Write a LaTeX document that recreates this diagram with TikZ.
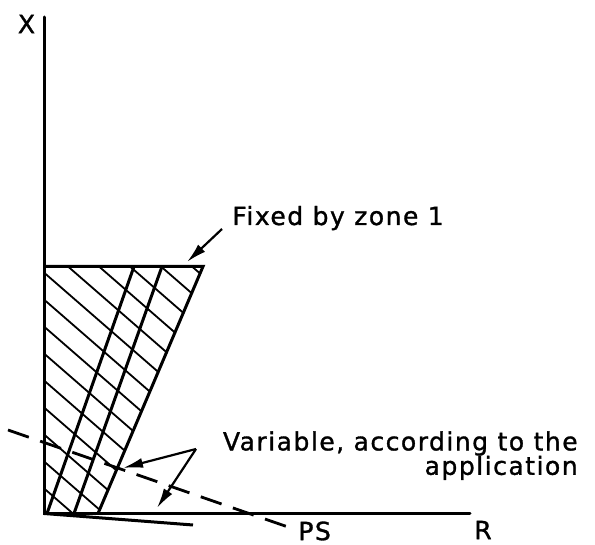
\documentclass[tikz,border=0pt]{standalone}
\usepackage{fontspec}
\usetikzlibrary{arrows.meta,positioning}
\newfontfamily\lettering[LetterSpace=6,FakeBold=1.2]{DejaVu Sans}
\tikzset{
  axis/.style={line width=1.5pt, line cap=round},
  edge/.style={line width=1.5pt},
  hatch/.style={line width=0.9pt},
  bound/.style={line width=1.4pt, dash pattern=on 11pt off 6pt},
  callout/.style={-{Latex[length=10pt,width=5pt]}, line width=1.1pt},
  lbl/.style={font=\lettering\fontsize{12.5}{12.2}\selectfont, inner sep=0pt},
}
\begin{document}
\begin{tikzpicture}[x=0.5pt, y=-0.5pt]
  \useasboundingbox (0,0) rectangle (595,545);
  \coordinate (O) at (44,513.5);
  \coordinate (Xtop) at (44,17);
  \coordinate (Rend) at (470,513.5);
  \coordinate (TL) at (44,266.5);
  \coordinate (TR) at (203,266.5);
  \coordinate (BR) at (98,513.5);
  \coordinate (psStart) at (8,430);
  \coordinate (psEnd) at (288,527);
  \coordinate (lowEnd) at (193,525);
  % hatched zone
  \begin{scope}
    \clip (O) -- (TL) -- (TR) -- (BR) -- cycle;
    \foreach \k in {-10,...,5} \draw[hatch] ({68+31*\k},266.5) -- ++(400,348);
  \end{scope}
  \draw[edge] (134,266.5) -- (47,513.5);
  \draw[edge] (162,266.5) -- (74,513.5);
  \draw[edge] (TL) -- (TR) -- (BR);
  \draw[axis] (Xtop) -- (O) -- (Rend);
  \draw[edge] (O) -- (lowEnd);
  % labels
  \node[lbl] (X) at (26.5,24) {X};
  \node[lbl] (R) at (483,530) {R};
  \node[lbl, right=5pt of psEnd, yshift=-2pt] (PS) {PS};
  \draw[bound] (psStart) -- (psEnd);
  \node[lbl, anchor=base west] (fix) at (232,225) {Fixed by zone 1};
  \node[lbl, anchor=north east, align=right] (var) at (578,431) {Variable, according to the\\application};
  % callouts
  \coordinate (fixTail) at (222,229);
  \coordinate (fixTip) at (187,262);
  \coordinate (varTail) at (196,449);
  \coordinate (varTipA) at (123,468);
  \coordinate (varTipB) at (157,508);
  \draw[callout] (fixTail) -- (fixTip);
  \draw[callout] (varTail) -- (varTipA);
  \draw[callout] (varTail) -- (varTipB);
\end{tikzpicture}
\end{document}
